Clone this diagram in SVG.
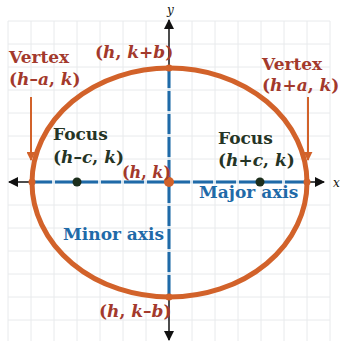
<svg xmlns="http://www.w3.org/2000/svg" width="342" height="341" viewBox="0 0 342 341">
<defs>
<style>
.grid{stroke:#e8eaec;stroke-width:1;fill:none}
.ax{stroke:#111;stroke-width:1.5;fill:none}
.t{font-family:"DejaVu Serif","Liberation Serif",serif;font-weight:bold;font-size:17px}
.lbl{font-family:"DejaVu Serif","Liberation Serif",serif;font-style:italic;font-size:12px;fill:#111}
.red{fill:#a3392c}
.grn{fill:#253425}
.blu{fill:#1f6aa8}
.i{font-style:italic}
.under{stroke:#d6e4ef;stroke-width:3}
.dash{stroke:#1f6aa8;stroke-width:3;stroke-dasharray:20 3}
</style>
<marker id="ah" viewBox="0 0 10 10" refX="9" refY="5" markerWidth="10" markerHeight="10" markerUnits="userSpaceOnUse" orient="auto">
<path d="M0,0 L10,5 L0,10 z" fill="#111"/>
</marker>
<marker id="oh" viewBox="0 0 10 10" refX="9" refY="5" markerWidth="9" markerHeight="9" markerUnits="userSpaceOnUse" orient="auto">
<path d="M0,0 L10,5 L0,10 z" fill="#d2622a"/>
</marker>
</defs>
<rect width="342" height="341" fill="#fff"/>
<g id="grid" class="grid">
<path d="M8,21V341M31,21V341M54,21V341M77,21V341M100,21V341M123,21V341M146,21V341M192,21V341M215,21V341M238,21V341M261,21V341M284,21V341M307,21V341M330,21V341"/>
<path d="M8,21H330M8,44H330M8,67H330M8,90H330M8,113H330M8,136H330M8,159H330M8,205H330M8,228H330M8,251H330M8,274H330M8,297H330M8,320H330"/>
</g>
<g id="connectors">
<line class="ax" x1="169" y1="182" x2="9" y2="182" marker-end="url(#ah)"/>
<line class="ax" x1="169" y1="182" x2="324" y2="182" marker-end="url(#ah)"/>
<line class="ax" x1="169" y1="182" x2="169" y2="20" marker-end="url(#ah)"/>
<line class="ax" x1="169" y1="182" x2="169" y2="340" marker-end="url(#ah)"/>
<line class="under" x1="32" y1="182" x2="307" y2="182"/>
<line class="dash" x1="32" y1="182" x2="307" y2="182"/>
<line class="under" x1="169" y1="68" x2="169" y2="297"/>
<line class="dash" x1="169" y1="68" x2="169" y2="297"/>
<line x1="31" y1="97" x2="31" y2="160" stroke="#d2622a" stroke-width="2" marker-end="url(#oh)"/>
<line x1="308" y1="97" x2="308" y2="160" stroke="#d2622a" stroke-width="2" marker-end="url(#oh)"/>
</g>
<g id="ellipse">
<ellipse cx="169.5" cy="182.5" rx="137.5" ry="114.5" fill="none" stroke="#d2622a" stroke-width="5"/>
</g>
<g id="points">
<circle cx="169" cy="182" r="5" fill="#d2622a"/>
<circle cx="32" cy="182" r="3.5" fill="#d2622a"/>
<circle cx="307" cy="182" r="3.5" fill="#d2622a"/>
<circle cx="169" cy="68" r="3.5" fill="#d2622a"/>
<circle cx="169" cy="297" r="3.5" fill="#d2622a"/>
<circle cx="77" cy="182" r="4.5" fill="#1c2e1c"/>
<circle cx="260" cy="182" r="4.5" fill="#1c2e1c"/>
</g>
<g id="labels">
<text class="lbl" x="167" y="14">y</text>
<text class="lbl" x="333" y="187">x</text>
<text class="t red" x="9" y="63">Vertex</text>
<text class="t red" x="9" y="85">(<tspan class="i">h</tspan>–<tspan class="i">a</tspan>, <tspan class="i">k</tspan>)</text>
<text class="t red" x="95" y="58">(<tspan class="i">h</tspan>, <tspan class="i">k</tspan>+<tspan class="i">b</tspan>)</text>
<text class="t red" x="262" y="70">Vertex</text>
<text class="t red" x="262" y="91">(<tspan class="i">h</tspan>+<tspan class="i">a</tspan>, <tspan class="i">k</tspan>)</text>
<text class="t grn" x="53" y="140">Focus</text>
<text class="t grn" x="53" y="163">(<tspan class="i">h</tspan>–<tspan class="i">c</tspan>, <tspan class="i">k</tspan>)</text>
<text class="t grn" x="218" y="144">Focus</text>
<text class="t grn" x="218" y="166">(<tspan class="i">h</tspan>+<tspan class="i">c</tspan>, <tspan class="i">k</tspan>)</text>
<text class="t red" x="122" y="178" font-size="16" style="font-size:16px">(<tspan class="i">h</tspan>, <tspan class="i">k</tspan>)</text>
<text class="t blu" x="199" y="198">Major axis</text>
<text class="t blu" x="63" y="240">Minor axis</text>
<text class="t red" x="99" y="317">(<tspan class="i">h</tspan>, <tspan class="i">k</tspan>–<tspan class="i">b</tspan>)</text>
</g>
</svg>
